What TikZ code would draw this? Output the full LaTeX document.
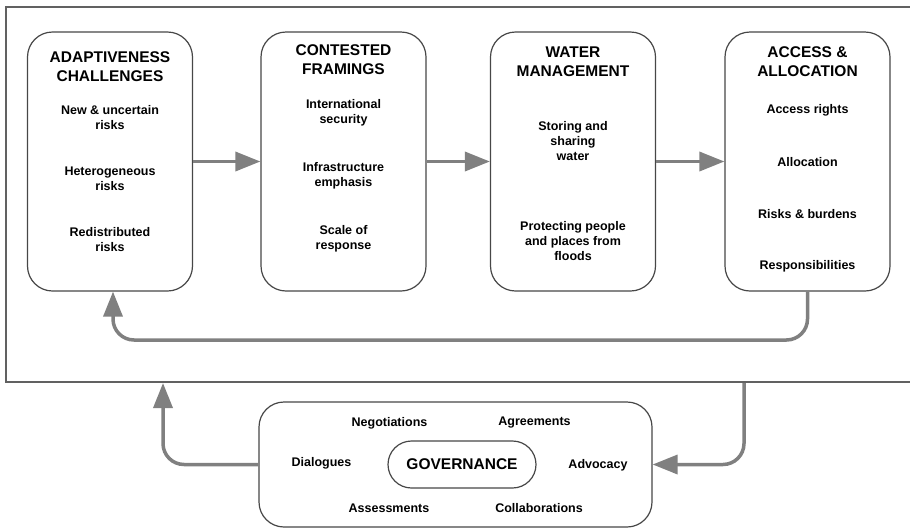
\documentclass[tikz,border=0pt]{standalone}
\usepackage{fontspec}
\setmainfont{Liberation Sans}
\usetikzlibrary{arrows.meta}
\tikzset{
  panel/.style={draw=black!72,line width=1.2pt,rounded corners=25pt,minimum width=165pt,minimum height=259pt},
  head/.style={font=\fontsize{15.5}{19}\selectfont\bfseries,align=center},
  item/.style={font=\fontsize{12.5}{15}\selectfont\bfseries,align=center},
  flow/.style={draw=black!50,line width=3.5pt,rounded corners=21pt,-{Triangle[length=25pt,width=19pt]}}
}
\begin{document}
\begin{tikzpicture}[x=1pt,y=-1pt]
\useasboundingbox (0,0) rectangle (910,528);
\clip (0,0) rectangle (910,528);
\draw[black!62,line width=2pt] (6,7) rectangle (915,382);
\node[panel] (b1) at (110,161.5) {};
\node[panel] (b2) at (343.5,161.5) {};
\node[panel] (b3) at (573,161.5) {};
\node[panel] (b4) at (807.5,161.5) {};
\node[head] (h1) at (110,66.5) {ADAPTIVENESS\\CHALLENGES};
\node[item] (a1) at (110,117.5) {New \& uncertain\\risks};
\node[item] (a2) at (110,178.5) {Heterogeneous\\risks};
\node[item] (a3) at (110,239.5) {Redistributed\\risks};
\node[head] (h2) at (343.5,59.5) {CONTESTED\\FRAMINGS};
\node[item] (c1) at (343.5,113) {International\\security};
\node[item] (c2) at (343.5,176) {Infrastructure\\emphasis};
\node[item] (c3) at (343.5,239) {Scale of\\response};
\node[head] (h3) at (573,61.5) {WATER\\MANAGEMENT};
\node[item] (w1) at (573,141) {Storing and\\sharing\\water};
\node[item] (w2) at (573,241) {Protecting people\\and places from\\floods};
\node[head] (h4) at (807.5,61.5) {ACCESS \&\\ALLOCATION};
\node[item] (r1) at (807.5,110) {Access rights};
\node[item] (r2) at (807.5,162) {Allocation};
\node[item] (r3) at (807.5,214) {Risks \& burdens};
\node[item] (r4) at (807.5,266) {Responsibilities};
\draw[flow] (b1.east) -- (b2.west);
\draw[flow] (b2.east) -- (b3.west);
\draw[flow] (b3.east) -- (b4.west);
\coordinate (loop) at (460,340);
\draw[flow] (b4.south) |- (loop) -| ([xshift=3pt]b1.south);
\node[draw=black!72,line width=1.2pt,rounded corners=25pt,minimum width=393pt,minimum height=125pt] (gov) at (455.5,464.5) {};
\node[draw=black!72,line width=1.2pt,rounded corners=23.5pt,minimum width=148pt,minimum height=47pt,font=\fontsize{15.5}{19}\selectfont\bfseries] (core) at (462,464.5) {GOVERNANCE};
\node[item] (g1) at (389.5,423) {Negotiations};
\node[item] (g2) at (534.5,423) {Agreements};
\node[item] (g3) at (321.5,463) {Dialogues};
\node[item] (g4) at (598,465) {Advocacy};
\node[item] (g5) at (389,508) {Assessments};
\node[item] (g6) at (539,508) {Collaborations};
\coordinate (upin) at (163,383);
\coordinate (downout) at (744,383);
\draw[flow] (gov.west) -| (upin);
\draw[flow] (downout) |- (gov.east);
\end{tikzpicture}
\end{document}
